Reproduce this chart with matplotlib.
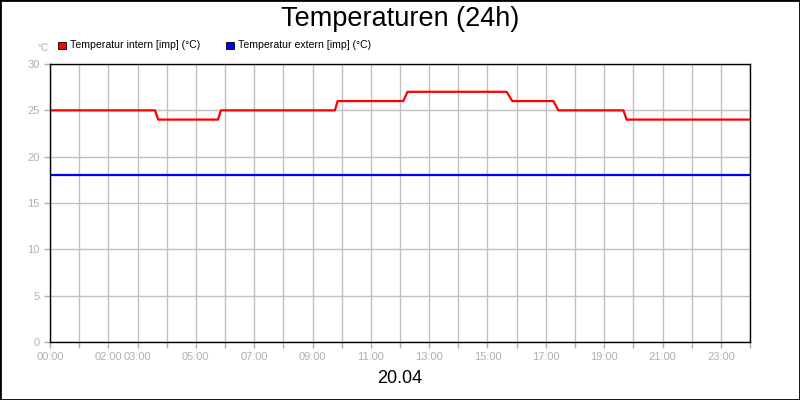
import matplotlib
matplotlib.use('Agg')
import matplotlib.pyplot as plt
from matplotlib.patches import Rectangle

# data (hours since 00:00, degrees C)
intern_t = [0.0, 3.6, 3.71, 5.76, 5.86, 9.77, 9.86, 12.11, 12.26,
            15.66, 15.85, 17.26, 17.43, 19.66, 19.77, 24.0]
intern_v = [25, 25, 24, 24, 25, 25, 26, 26, 27,
            27, 26, 26, 25, 25, 24, 24]
extern_t = [0.0, 24.0]
extern_v = [18, 18]

tick_hours = list(range(25))
label_hours = [0, 2, 3, 5, 7, 9, 11, 13, 15, 17, 19, 21, 23]
y_ticks = [0, 5, 10, 15, 20, 25, 30]

plt.rcParams['font.family'] = ['Liberation Sans', 'DejaVu Sans']

fig = plt.figure(figsize=(8, 4), dpi=100)
fig.patches.append(Rectangle((0, 0), 1, 1, transform=fig.transFigure,
                             fill=False, edgecolor='black', linewidth=2))
ax = fig.add_axes([0.0625, 0.145, 0.875, 0.695])

ax.plot(intern_t, intern_v, color='#ff0000', linewidth=1.6)
ax.plot(extern_t, extern_v, color='#0000ff', linewidth=1.6)

ax.set_xlim(0, 24)
ax.set_ylim(0, 30)
ax.set_xticks(tick_hours)
ax.set_xticklabels(['%02d:00' % h if h in label_hours else '' for h in tick_hours])
ax.set_yticks(y_ticks)
ax.grid(True, color='#c0c0c0', linewidth=1)
ax.set_axisbelow(True)
ax.tick_params(colors='#b0b0b0', labelcolor='#b0b0b0', labelsize=8, length=4, width=1)
for s in ax.spines.values():
    s.set_color('black')
    s.set_linewidth(1)

fig.text(0.5, 0.952, 'Temperaturen (24h)', ha='center', va='center', fontsize=19.5)
fig.text(0.5, 0.053, '20.04', ha='center', va='center', fontsize=13)
fig.text(0.053, 0.88, '°C', ha='center', va='center', fontsize=7, color='#b0b0b0')

# legend squares
fig.patches.append(Rectangle((0.073, 0.878), 0.009, 0.018, transform=fig.transFigure,
                             facecolor='#ff0000', edgecolor='black', linewidth=0.6))
fig.text(0.087, 0.888, 'Temperatur intern [imp] (°C)', va='center', fontsize=7.6)
fig.patches.append(Rectangle((0.283, 0.878), 0.009, 0.018, transform=fig.transFigure,
                             facecolor='#0000ff', edgecolor='black', linewidth=0.6))
fig.text(0.297, 0.888, 'Temperatur extern [imp] (°C)', va='center', fontsize=7.6)

fig.savefig('out.png', dpi=100)
